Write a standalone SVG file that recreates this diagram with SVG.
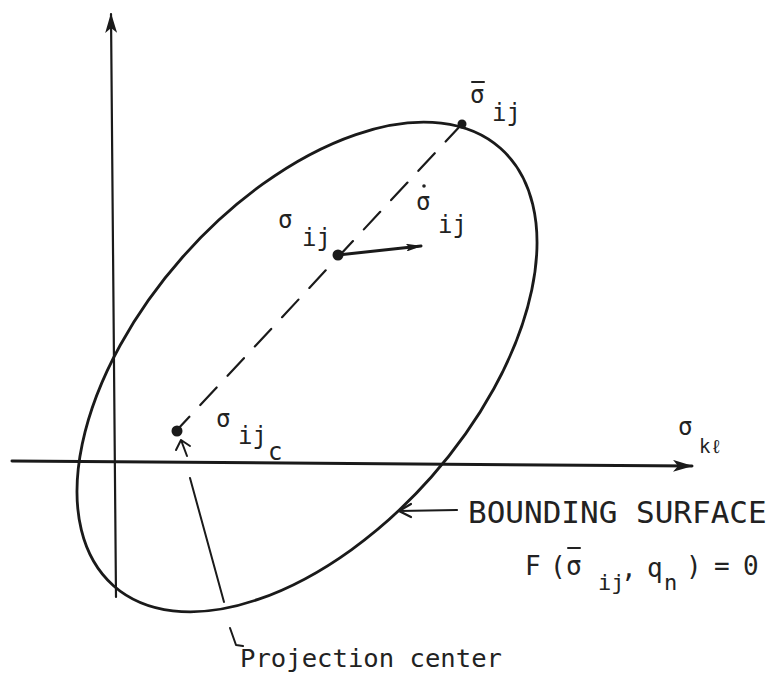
<svg xmlns="http://www.w3.org/2000/svg" width="778" height="681" viewBox="0 0 778 681">
<style>
.ln{fill:none;stroke:#1a1a1a;stroke-linecap:round;stroke-linejoin:round}
.t{font-family:"DejaVu Sans Mono","Liberation Mono",monospace;fill:#222}
.g{font-size:24px}
.s{font-size:22px}
.mk{stroke:#222;stroke-width:2;stroke-linecap:round}
</style>
<defs>
<marker id="ah" viewBox="0 0 20 12" refX="19" refY="6" markerWidth="20" markerHeight="12" markerUnits="userSpaceOnUse" orient="auto">
<path d="M0,0 L20,6 L0,12 L5,6 Z" fill="#1a1a1a"/>
</marker>
<marker id="ah2" viewBox="0 0 16 8" refX="15" refY="4" markerWidth="16" markerHeight="8" markerUnits="userSpaceOnUse" orient="auto">
<path d="M0,0 L16,4 L0,8 L3,4 Z" fill="#1a1a1a"/>
</marker>
</defs>
<rect width="778" height="681" fill="#ffffff"/>
<g id="axes">
<line class="ln" x1="116" y1="597" x2="111" y2="14" stroke-width="2.2" marker-end="url(#ah)"/>
<line class="ln" x1="12" y1="461" x2="692" y2="466" stroke-width="3" marker-end="url(#ah)"/>
</g>
<g id="bounding-surface">
<ellipse class="ln" cx="307" cy="367" rx="292" ry="166" transform="rotate(-48.5 307 367)" stroke-width="2.8"/>
</g>
<g id="connectors">
<line class="ln" x1="462" y1="124" x2="177" y2="430" stroke-width="2.2" stroke-dasharray="24 16"/>
<line class="ln" x1="338" y1="255" x2="421" y2="246" stroke-width="3" marker-end="url(#ah2)"/>
<path class="ln" d="M187,456 L181,440 M176,450 L181,440 L190,446" stroke-width="2"/>
<path class="ln" d="M190,478 L224,602" stroke-width="2"/>
<path class="ln" d="M230,628 L236,645 L243,646" stroke-width="2"/>
<path class="ln" d="M457,510 L399,511 M411,504 L399,511 L411,517" stroke-width="2.2"/>
</g>
<g id="point-bar">
<circle cx="462" cy="124" r="4.5" fill="#1a1a1a"/>
<text class="t g" x="470" y="103">σ</text>
<line class="mk" x1="472" y1="82" x2="484" y2="82"/>
<text class="t g" x="492" y="121">ij</text>
</g>
<g id="rate">
<text class="t g" x="416" y="210">σ</text>
<circle cx="424" cy="186" r="1.8" fill="#222"/>
<text class="t g" x="438" y="233">ij</text>
</g>
<g id="point">
<circle cx="338" cy="255" r="5.5" fill="#1a1a1a"/>
<text class="t g" x="278" y="228">σ</text>
<text class="t g" x="302" y="246">ij</text>
</g>
<g id="center">
<circle cx="177" cy="431" r="5.5" fill="#1a1a1a"/>
<text class="t g" x="216" y="427">σ</text>
<text class="t g" x="238" y="444">ij</text>
<text class="t g" x="268" y="460">c</text>
</g>
<g id="axis-label">
<text class="t g" x="678" y="435">σ</text>
<text class="t" style="font-size:19px" x="699" y="453">kℓ</text>
</g>
<g id="labels">
<text class="t" style="font-size:31px" x="468" y="523">BOUNDING SURFACE</text>
<text class="t" style="font-size:26px"><tspan x="525" y="575">F</tspan><tspan x="550" y="575">(</tspan><tspan x="566" y="575">σ</tspan><tspan class="s" x="598" y="590">ij</tspan><tspan x="621" y="577">,</tspan><tspan x="647" y="577">q</tspan><tspan class="s" x="664" y="590">n</tspan><tspan x="686" y="575">)</tspan><tspan x="714" y="575">=</tspan><tspan x="743" y="575">0</tspan></text>
<line class="mk" x1="568" y1="548" x2="580" y2="548"/>
<text class="t" style="font-size:24px" x="240" y="667" textLength="262" lengthAdjust="spacingAndGlyphs">Projection center</text>
</g>
</svg>
